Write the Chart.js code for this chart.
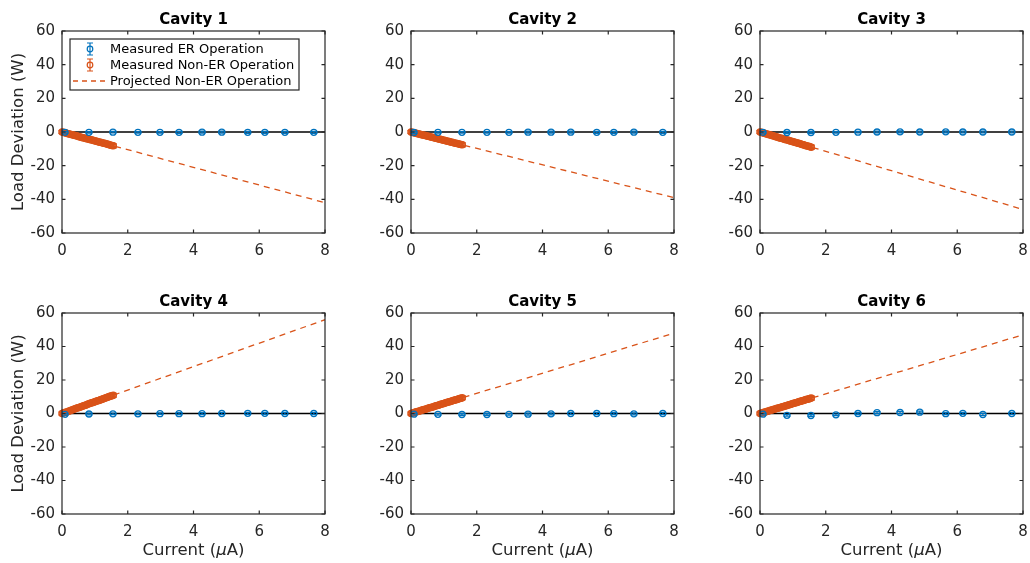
<!DOCTYPE html>
<html>
<head>
<meta charset="utf-8">
<script src="https://cdn.jsdelivr.net/npm/chart.js@4.4.0/dist/chart.umd.min.js"></script>
<style>
  body { margin: 0; background: #fff; width: 1030px; height: 563px; overflow: hidden; position: relative; }
  canvas { position: absolute; }
</style>
</head>
<body>
<script>
// ---- data ----
const cavityNames = ['Cavity 1', 'Cavity 2', 'Cavity 3', 'Cavity 4', 'Cavity 5', 'Cavity 6'];

const xTicks = [0, 2, 4, 6, 8];
const yTicks = [-60, -40, -20, 0, 20, 40, 60];

// energy-recovery runs (uA, W)
const erCurrent = [0.09, 0.82, 1.55, 2.31, 2.98, 3.56, 4.26, 4.86, 5.65, 6.17, 6.78, 7.66];
const erLoad = [
  [-0.2, -0.2, -0.1, -0.2, -0.2, -0.2, -0.1, -0.1, -0.2, -0.2, -0.2, -0.2],
  [-0.3, -0.2, -0.2, -0.2, -0.2, -0.1, -0.1, -0.1, -0.2, -0.2, -0.1, -0.2],
  [-0.2, -0.3, -0.3, -0.2, -0.1, 0.0, 0.1, 0.0, 0.1, 0.0, 0.0, 0.0],
  [-0.5, -0.3, -0.2, -0.2, -0.1, -0.1, -0.1, 0.0, 0.1, 0.1, 0.0, 0.0],
  [-0.4, -0.5, -0.6, -0.6, -0.5, -0.4, -0.2, 0.0, 0.0, -0.1, -0.2, 0.0],
  [-0.4, -1.1, -1.2, -0.8, 0.0, 0.5, 0.6, 0.8, -0.1, 0.1, -0.6, 0.0]
];
const erError = [0.5, 0.5, 0.5, 0.5, 0.5, 0.6, 0.6, 0.6, 0.6, 0.6, 0.6, 0.6];

// non-ER runs (uA, W)
const nonErCurrent = [0.00, 0.04, 0.08, 0.12, 0.16, 0.20, 0.24, 0.28, 0.32, 0.36,
                      0.40, 0.44, 0.48, 0.52, 0.56, 0.60, 0.64, 0.68, 0.72, 0.76,
                      0.80, 0.84, 0.88, 0.92, 0.96, 1.00, 1.04, 1.08, 1.12, 1.16,
                      1.20, 1.24, 1.28, 1.32, 1.36, 1.40, 1.44, 1.48, 1.52, 1.56];
const nonErLoad = [
  [0.0, -0.2, -0.4, -0.6, -0.9, -1.0, -1.3, -1.5, -1.7, -1.9, -2.1, -2.3, -2.5, -2.8, -2.9, -3.2, -3.4, -3.5, -3.8, -4.0,
   -4.2, -4.4, -4.6, -4.8, -5.1, -5.2, -5.5, -5.7, -5.9, -6.1, -6.3, -6.5, -6.7, -6.9, -7.2, -7.3, -7.6, -7.8, -8.0, -8.2],
  [0.0, -0.2, -0.4, -0.6, -0.8, -1.0, -1.2, -1.4, -1.6, -1.8, -2.0, -2.1, -2.4, -2.5, -2.7, -2.9, -3.1, -3.3, -3.5, -3.7,
   -3.9, -4.1, -4.3, -4.5, -4.7, -4.9, -5.1, -5.3, -5.5, -5.7, -5.9, -6.1, -6.3, -6.5, -6.7, -6.9, -7.0, -7.3, -7.4, -7.6],
  [0.0, -0.2, -0.5, -0.7, -0.9, -1.2, -1.4, -1.6, -1.8, -2.1, -2.3, -2.5, -2.8, -3.0, -3.2, -3.5, -3.7, -3.9, -4.1, -4.4,
   -4.6, -4.8, -5.1, -5.3, -5.5, -5.8, -6.0, -6.2, -6.4, -6.7, -6.9, -7.1, -7.4, -7.6, -7.8, -8.1, -8.3, -8.5, -8.7, -9.0],
  [0.0, 0.3, 0.6, 0.8, 1.1, 1.4, 1.7, 2.0, 2.2, 2.5, 2.8, 3.1, 3.4, 3.6, 3.9, 4.2, 4.5, 4.8, 5.0, 5.3,
   5.6, 5.9, 6.2, 6.4, 6.7, 7.0, 7.3, 7.6, 7.8, 8.1, 8.4, 8.7, 9.0, 9.2, 9.5, 9.8, 10.1, 10.4, 10.6, 10.9],
  [0.0, 0.2, 0.5, 0.7, 1.0, 1.2, 1.4, 1.7, 1.9, 2.2, 2.4, 2.6, 2.9, 3.1, 3.4, 3.6, 3.8, 4.1, 4.3, 4.6,
   4.8, 5.0, 5.3, 5.5, 5.8, 6.0, 6.2, 6.5, 6.7, 7.0, 7.2, 7.4, 7.7, 7.9, 8.2, 8.4, 8.6, 8.9, 9.1, 9.4],
  [0.0, 0.2, 0.5, 0.7, 0.9, 1.2, 1.4, 1.7, 1.9, 2.1, 2.4, 2.6, 2.8, 3.1, 3.3, 3.5, 3.8, 4.0, 4.2, 4.5,
   4.7, 5.0, 5.2, 5.4, 5.7, 5.9, 6.1, 6.4, 6.6, 6.8, 7.1, 7.3, 7.6, 7.8, 8.0, 8.3, 8.5, 8.7, 9.0, 9.2]
];
const nonErError = [0.9, 0.9, 0.9, 0.9, 0.9, 0.9, 0.9, 0.9, 0.9, 0.9,
                    1.0, 1.0, 1.0, 1.0, 1.0, 1.0, 1.0, 1.0, 1.0, 1.0,
                    1.1, 1.1, 1.1, 1.1, 1.1, 1.1, 1.1, 1.1, 1.1, 1.1,
                    1.2, 1.2, 1.2, 1.2, 1.2, 1.2, 1.2, 1.2, 1.2, 1.2];

// projected non-ER trend
const projectedCurrent = [0, 8];
const projectedLoad = [
  [0, -42], [0, -39], [0, -46], [0, 56], [0, 48], [0, 47]
];

const zeroCurrent = [0, 8];
const zeroLoad = [0, 0];

const legendLabels = ['Measured ER Operation', 'Measured Non-ER Operation', 'Projected Non-ER Operation'];

// ---- layout ----
const BLUE = '#0072BD';
const ORANGE = '#D95319';
const INK = '#262626';
const FONT = "'DejaVu Sans', sans-serif";

const colLeft = [62, 411, 760];
const rowTop = [31, 313];
const plotW = 263;
const plotH = [202, 201];
const PADL = 62, PADT = 31, PADR = 6, PADB = 49;

const toPoints = (xs, ys) => xs.map((x, i) => ({ x: x, y: ys[i] }));

// vertical error bars with caps, drawn right after the dataset they belong to
const errorBars = {
  id: 'errorBars',
  afterDatasetDraw(chart, args) {
    const ds = chart.data.datasets[args.index];
    if (!ds.yErr) return;
    const ctx = chart.ctx;
    const ys = chart.scales.y;
    ctx.save();
    ctx.strokeStyle = ds.borderColor;
    ctx.lineWidth = 1.2;
    args.meta.data.forEach((pt, i) => {
      const v = ds.data[i].y;
      const e = ds.yErr[i];
      const top = ys.getPixelForValue(v + e);
      const bot = ys.getPixelForValue(v - e);
      ctx.beginPath();
      ctx.moveTo(pt.x, top); ctx.lineTo(pt.x, bot);
      ctx.moveTo(pt.x - 3.5, top); ctx.lineTo(pt.x + 3.5, top);
      ctx.moveTo(pt.x - 3.5, bot); ctx.lineTo(pt.x + 3.5, bot);
      ctx.stroke();
    });
    ctx.restore();
  }
};

// box, inward ticks, titles and legend
const frame = {
  id: 'frame',
  afterDraw(chart, args, opts) {
    const ctx = chart.ctx;
    const a = chart.chartArea;
    const xs = chart.scales.x, ys = chart.scales.y;
    ctx.save();
    ctx.strokeStyle = INK;
    ctx.lineWidth = 1.2;
    ctx.strokeRect(a.left, a.top, a.right - a.left, a.bottom - a.top);
    ctx.beginPath();
    const tl = 3.5;
    xTicks.forEach(v => {
      const px = xs.getPixelForValue(v);
      ctx.moveTo(px, a.bottom); ctx.lineTo(px, a.bottom - tl);
      ctx.moveTo(px, a.top); ctx.lineTo(px, a.top + tl);
    });
    yTicks.forEach(v => {
      const py = ys.getPixelForValue(v);
      ctx.moveTo(a.left, py); ctx.lineTo(a.left + tl, py);
      ctx.moveTo(a.right, py); ctx.lineTo(a.right - tl, py);
    });
    ctx.stroke();

    ctx.fillStyle = '#000';
    ctx.font = 'bold 15px ' + FONT;
    ctx.textAlign = 'center';
    ctx.textBaseline = 'middle';
    ctx.fillText(opts.title, (a.left + a.right) / 2, a.top - 11);

    ctx.fillStyle = INK;
    if (opts.yLabel) {
      ctx.save();
      ctx.translate(19, (a.top + a.bottom) / 2);
      ctx.rotate(-Math.PI / 2);
      ctx.font = '16.5px ' + FONT;
      ctx.fillText('Load Deviation (W)', 0, 0);
      ctx.restore();
    }
    if (opts.xLabel) {
      const parts = [['Current (', '16.5px '], ['\u03BC', 'italic 16.5px '], ['A)', '16.5px ']];
      let total = 0;
      parts.forEach(p => { ctx.font = p[1] + FONT; total += ctx.measureText(p[0]).width; });
      let x = (a.left + a.right) / 2 - total / 2;
      const y = a.bottom + 37;
      ctx.textAlign = 'left';
      parts.forEach(p => {
        ctx.font = p[1] + FONT;
        ctx.fillText(p[0], x, y);
        x += ctx.measureText(p[0]).width;
      });
    }
    if (opts.legend) drawLegend(ctx, a);
    ctx.restore();
  }
};

function drawLegend(ctx, a) {
  const bx = a.left + 8, by = a.top + 8, bw = 229, bh = 51;
  ctx.fillStyle = '#fff';
  ctx.fillRect(bx, by, bw, bh);
  ctx.strokeStyle = INK;
  ctx.lineWidth = 1.2;
  ctx.strokeRect(bx, by, bw, bh);
  const rows = [by + 10, by + 26, by + 42];
  const iconX = bx + 20;
  [BLUE, ORANGE].forEach((c, i) => {
    const y = rows[i];
    ctx.strokeStyle = c;
    ctx.lineWidth = 1.2;
    ctx.beginPath();
    ctx.moveTo(iconX, y - 6); ctx.lineTo(iconX, y + 6);
    ctx.moveTo(iconX - 3, y - 6); ctx.lineTo(iconX + 3, y - 6);
    ctx.moveTo(iconX - 3, y + 6); ctx.lineTo(iconX + 3, y + 6);
    ctx.stroke();
    ctx.beginPath();
    ctx.arc(iconX, y, 2.8, 0, Math.PI * 2);
    ctx.stroke();
  });
  ctx.strokeStyle = ORANGE;
  ctx.lineWidth = 1.3;
  ctx.setLineDash([5, 4]);
  ctx.beginPath();
  ctx.moveTo(bx + 3, rows[2]); ctx.lineTo(bx + 38, rows[2]);
  ctx.stroke();
  ctx.setLineDash([]);
  ctx.fillStyle = '#000';
  ctx.font = '13px ' + FONT;
  ctx.textAlign = 'left';
  ctx.textBaseline = 'middle';
  legendLabels.forEach((t, i) => ctx.fillText(t, bx + 40, rows[i] + 0.5));
}

cavityNames.forEach((name, k) => {
  const col = k % 3, row = Math.floor(k / 3);
  const canvas = document.createElement('canvas');
  const w = PADL + plotW + PADR, h = PADT + plotH[row] + PADB;
  canvas.width = w; canvas.height = h;
  canvas.style.left = (colLeft[col] - PADL) + 'px';
  canvas.style.top = (rowTop[row] - PADT) + 'px';
  canvas.style.width = w + 'px'; canvas.style.height = h + 'px';
  document.body.appendChild(canvas);

  new Chart(canvas, {
    type: 'scatter',
    data: {
      datasets: [
        {
          label: legendLabels[0],
          data: toPoints(erCurrent, erLoad[k]),
          yErr: erError,
          borderColor: BLUE,
          backgroundColor: 'rgba(0,0,0,0)',
          pointRadius: 3,
          borderWidth: 1.3,
          showLine: false
        },
        {
          label: legendLabels[1],
          data: toPoints(nonErCurrent, nonErLoad[k]),
          yErr: nonErError,
          borderColor: ORANGE,
          backgroundColor: 'rgba(0,0,0,0)',
          pointRadius: 3,
          borderWidth: 1.5,
          showLine: false,
          clip: false
        },
        {
          label: legendLabels[2],
          data: toPoints(projectedCurrent, projectedLoad[k]),
          borderColor: ORANGE,
          borderWidth: 1.3,
          borderDash: [6, 5],
          pointRadius: 0,
          showLine: true
        },
        {
          label: 'zero',
          data: toPoints(zeroCurrent, zeroLoad),
          borderColor: '#000',
          borderWidth: 1.5,
          pointRadius: 0,
          showLine: true
        }
      ]
    },
    options: {
      responsive: false,
      animation: false,
      events: [],
      layout: { padding: { top: PADT, right: PADR, left: 0, bottom: 0 } },
      scales: {
        x: {
          type: 'linear', min: 0, max: 8,
          afterBuildTicks: s => { s.ticks = xTicks.map(v => ({ value: v })); },
          afterFit: s => { s.height = PADB; s.paddingLeft = 0; s.paddingRight = 0; },
          grid: { display: false, drawTicks: false },
          border: { display: false },
          ticks: { color: INK, font: { family: FONT, size: 15 }, padding: 9, maxRotation: 0 }
        },
        y: {
          type: 'linear', min: -60, max: 60,
          afterBuildTicks: s => { s.ticks = yTicks.map(v => ({ value: v })); },
          afterFit: s => { s.width = PADL; s.paddingTop = 0; s.paddingBottom = 0; },
          grid: { display: false, drawTicks: false },
          border: { display: false },
          ticks: { color: INK, font: { family: FONT, size: 15 }, padding: 7 }
        }
      },
      plugins: {
        legend: { display: false },
        tooltip: { enabled: false },
        frame: { title: name, yLabel: col === 0, xLabel: row === 1, legend: k === 0 }
      }
    },
    plugins: [errorBars, frame]
  });
});
</script>
</body>
</html>
